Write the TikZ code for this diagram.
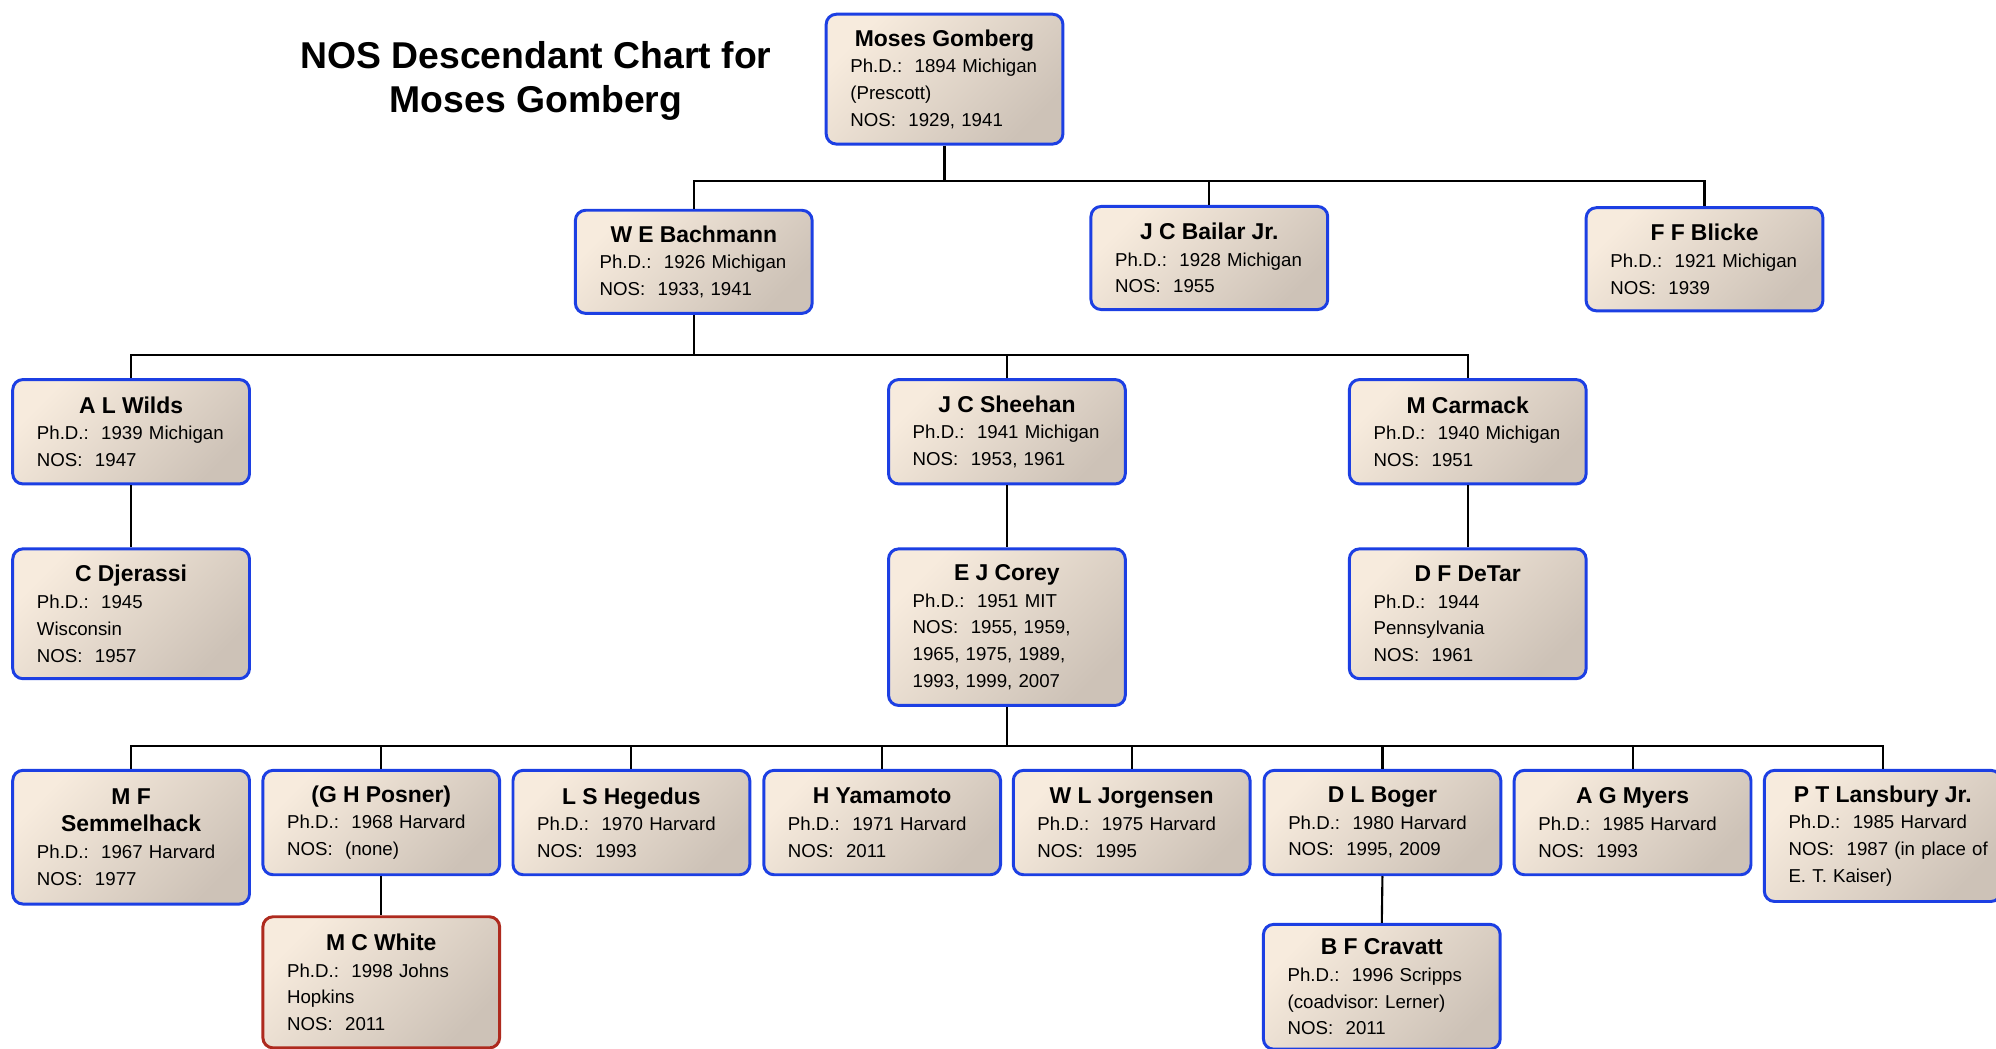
\documentclass[tikz,border=0pt]{standalone}
\usepackage{fontspec}
\setmainfont{Liberation Sans}
\definecolor{boxA}{HTML}{F7EBDD}
\definecolor{boxB}{HTML}{CDC2B7}
\definecolor{blueline}{HTML}{1C3FE3}
\definecolor{redline}{HTML}{AE2A1E}
\newcommand{\namefont}{\fontsize{10.8}{12.6}\selectfont\bfseries}
\newcommand{\bodyfont}{\fontsize{8.8}{12.6}\selectfont}
\newcommand{\pers}[2]{{\centering\namefont #1\par}#2}
\begin{document}
\begin{tikzpicture}[x=0.6pt,y=-0.6pt,
  person/.style={draw=blueline, line width=1.4pt, rounded corners=4.8pt,
    top color=boxA, bottom color=boxB, shading angle=45,
    anchor=north, text width=88.8pt, inner xsep=11.4pt, inner ysep=0pt,
    align=left, font=\bodyfont, minimum height=#1*0.6pt},
  person/.default=82,
  redperson/.style={person=#1, draw=redline},
  link/.style={draw=black, line width=1pt},
  ttl/.style={font=\fontsize{17.6}{21}\selectfont\bfseries, align=center}]
\useasboundingbox (0,0) rectangle (1568,824);
\frenchspacing
\node[ttl] (title) at (421,63.5) {NOS Descendant Chart for\\Moses Gomberg};

\node[person=102] (moses) at (742,10) {\pers{Moses Gomberg}{Ph.D.:\ \ 1894 Michigan\\(Prescott)\\NOS:\ \ 1929, 1941}};

\node[person=81] (bach) at (545,164) {\pers{W E Bachmann}{Ph.D.:\ \ 1926 Michigan\\NOS:\ \ 1933, 1941}};
\node[person=81] (bailar) at (950,161) {\pers{J C Bailar Jr.}{Ph.D.:\ \ 1928 Michigan\\NOS:\ \ 1955}};
\node[person=81] (blicke) at (1339,162) {\pers{F F Blicke}{Ph.D.:\ \ 1921 Michigan\\NOS:\ \ 1939}};

\node[person=82] (wilds) at (103,297) {\pers{A L Wilds}{Ph.D.:\ \ 1939 Michigan\\NOS:\ \ 1947}};
\node[person=82] (sheehan) at (791,297) {\pers{J C Sheehan}{Ph.D.:\ \ 1941 Michigan\\NOS:\ \ 1953, 1961}};
\node[person=82] (carmack) at (1153,297) {\pers{M Carmack}{Ph.D.:\ \ 1940 Michigan\\NOS:\ \ 1951}};

\node[person=102] (djerassi) at (103,430) {\pers{C Djerassi}{Ph.D.:\ \ 1945\\Wisconsin\\NOS:\ \ 1957}};
\node[person=123] (corey) at (791,430) {\pers{E J Corey}{Ph.D.:\ \ 1951 MIT\\NOS:\ \ 1955, 1959,\\1965, 1975, 1989,\\1993, 1999, 2007}};
\node[person=102] (detar) at (1153,430) {\pers{D F DeTar}{Ph.D.:\ \ 1944\\Pennsylvania\\NOS:\ \ 1961}};

\node[person=105] (semmel) at (103,604) {\pers{M F\\Semmelhack}{Ph.D.:\ \ 1967 Harvard\\NOS:\ \ 1977}};
\node[person=82] (posner) at (299.5,604) {\pers{(G H Posner)}{Ph.D.:\ \ 1968 Harvard\\NOS:\ \ (none)}};
\node[person=82] (hegedus) at (496,604) {\pers{L S Hegedus}{Ph.D.:\ \ 1970 Harvard\\NOS:\ \ 1993}};
\node[person=82] (yama) at (693,604) {\pers{H Yamamoto}{Ph.D.:\ \ 1971 Harvard\\NOS:\ \ 2011}};
\node[person=82] (jorg) at (889,604) {\pers{W L Jorgensen}{Ph.D.:\ \ 1975 Harvard\\NOS:\ \ 1995}};
\node[person=82] (boger) at (1086,604) {\pers{D L Boger}{Ph.D.:\ \ 1980 Harvard\\NOS:\ \ 1995, 2009}};
\node[person=82] (myers) at (1282.5,604) {\pers{A G Myers}{Ph.D.:\ \ 1985 Harvard\\NOS:\ \ 1993}};
\node[person=103] (lans) at (1479,604) {\pers{P T Lansbury Jr.}{Ph.D.:\ \ 1985 Harvard\\\mbox{NOS:\ \ 1987 (in place of}\\E. T. Kaiser)}};

\node[redperson=103] (white) at (299.5,719) {\pers{M C White}{Ph.D.:\ \ 1998 Johns\\Hopkins\\NOS:\ \ 2011}};
\node[person=98] (cravatt) at (1085.5,725) {\pers{B F Cravatt}{Ph.D.:\ \ 1996 Scripps\\(coadvisor: Lerner)\\NOS:\ \ 2011}};

% buses
\coordinate (busA) at (0,142);
\coordinate (busB) at (0,279);
\coordinate (busC) at (0,586);

\draw[link] (moses.south) -- (moses.south |- busA);
\draw[link] (bach.north) |- (blicke.north |- busA) -- (blicke.north);
\draw[link] (bailar.north) -- (bailar.north |- busA);

\draw[link] (bach.south) -- (bach.south |- busB);
\draw[link] (wilds.north) |- (carmack.north |- busB) -- (carmack.north);
\draw[link] (sheehan.north) -- (sheehan.north |- busB);

\draw[link] (wilds.south) -- (djerassi.north);
\draw[link] (sheehan.south) -- (corey.north);
\draw[link] (carmack.south) -- (detar.north);

\draw[link] (corey.south) -- (corey.south |- busC);
\draw[link] (semmel.north) |- (lans.north |- busC) -- (lans.north);
\foreach \n in {posner,hegedus,yama,jorg,boger,myers}
  \draw[link] (\n.north) -- (\n.north |- busC);

\draw[link] (posner.south) -- (white.north);
\draw[link] (boger.south) -- (cravatt.north);
\end{tikzpicture}
\end{document}
